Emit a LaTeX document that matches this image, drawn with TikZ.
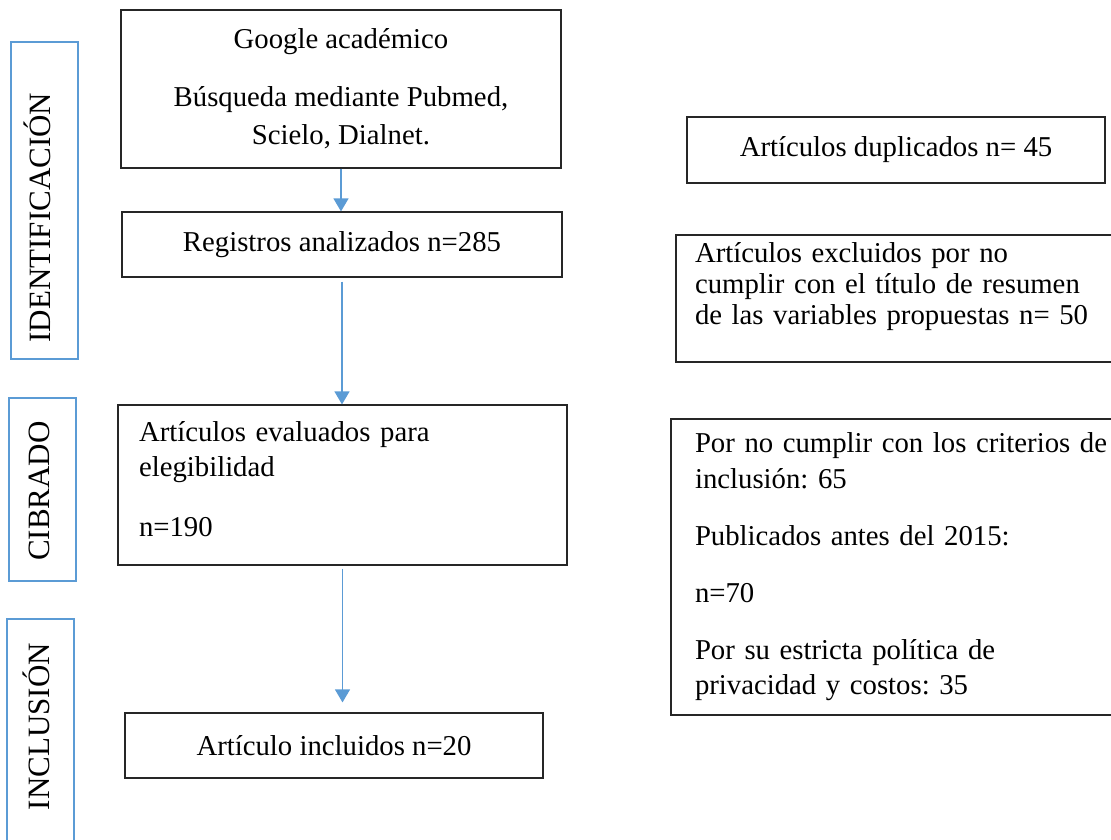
\documentclass[tikz,border=0pt]{standalone}
\usepackage{fontspec}
\setmainfont{Liberation Serif}
\usetikzlibrary{arrows.meta}
\definecolor{phaseblue}{HTML}{5B9BD5}
\frenchspacing

\begin{document}
\begin{tikzpicture}[
  x=1pt, y=-1pt,
  font=\fontsize{28.75pt}{36pt}\selectfont,
  box/.style={draw=black!85, line width=1.2pt, inner sep=0pt, align=center},
  lbox/.style={box, align=left},
  phase/.style={draw=phaseblue, line width=2pt, inner sep=0pt, minimum width=67pt},
  phaselbl/.style={rotate=90, inner sep=0pt, text height=21pt, text depth=0pt, font=\fontsize{31pt}{36pt}\selectfont},
  flow/.style={-{Triangle[width=15pt,length=13pt]}, phaseblue, line width=1.3pt},
]
\useasboundingbox (0,0) rectangle (1111,840);
\clip (0,0) rectangle (1111,840);
% --- phases (left column) ---
\node[phase, minimum height=317pt] (ident) at (44.5,200.5) {};
\node[phase, minimum height=183pt] (cibr)  at (42.5,489.5) {};
\node[phase, minimum height=251pt] (incl)  at (40.5,744.5) {};
\node[phaselbl] (identlbl) at (40,217.5) {IDENTIFICACIÓN};
\node[phaselbl] (cibrlbl)  at (39,491)   {CIBRADO};
\node[phaselbl] (incllbl)  at (39,726.5) {INCLUSIÓN};
% --- main flow ---
\node[box, minimum width=440pt, minimum height=158pt, font=\fontsize{28.75pt}{38pt}\selectfont] (busq) at (341,89)
  {Google académico\\[20pt] Búsqueda mediante Pubmed,\\ Scielo, Dialnet.};
\node[box, minimum width=440pt, minimum height=65pt] (regis) at (342,244.5) {Registros analizados n=285};
\node[lbox, minimum width=449pt, minimum height=160pt, text width=407pt, inner xsep=21pt,
  font=\fontsize{28.75pt}{35pt}\selectfont] (evalu) at (342.5,485)
  {Artículos evaluados para\\ elegibilidad\\[25pt] n=190\rule[-11pt]{0pt}{0pt}};
\node[box, minimum width=418pt, minimum height=65pt] (inclu) at (334,745.5) {Artículo incluidos n=20};
% --- excluded (right column) ---
\node[box, minimum width=418pt, minimum height=66pt] (dupli) at (896,150) {Artículos duplicados n= 45};
\node[lbox, minimum width=458pt, minimum height=127pt, text width=420pt, inner xsep=19pt,
  font=\fontsize{28.75pt}{31pt}\selectfont] (exclu) at (905,298.5)
  {Artículos excluidos por no\\ cumplir con el título de resumen\\ de las variables propuestas n= 50\rule[-29pt]{0pt}{0pt}};
\node[lbox, minimum width=468pt, minimum height=296pt, text width=420pt, inner xsep=24pt,
  font=\fontsize{28.75pt}{35.5pt}\selectfont] (crit) at (905,567)
  {Por no cumplir con los criterios de\\ inclusión: 65\\[21.5pt] Publicados antes del 2015:\\[21.5pt] n=70\\[21.5pt]
   Por su estricta política de\\ privacidad y costos: 35};
% --- arrows ---
\draw[flow] (busq.south) -- (busq.south |- regis.north);
\draw[flow, shorten <=4pt] (regis.south) -- (regis.south |- evalu.north);
\draw[flow, shorten <=3pt, shorten >=10pt] (evalu.south) -- (evalu.south |- inclu.north);
\end{tikzpicture}
\end{document}
